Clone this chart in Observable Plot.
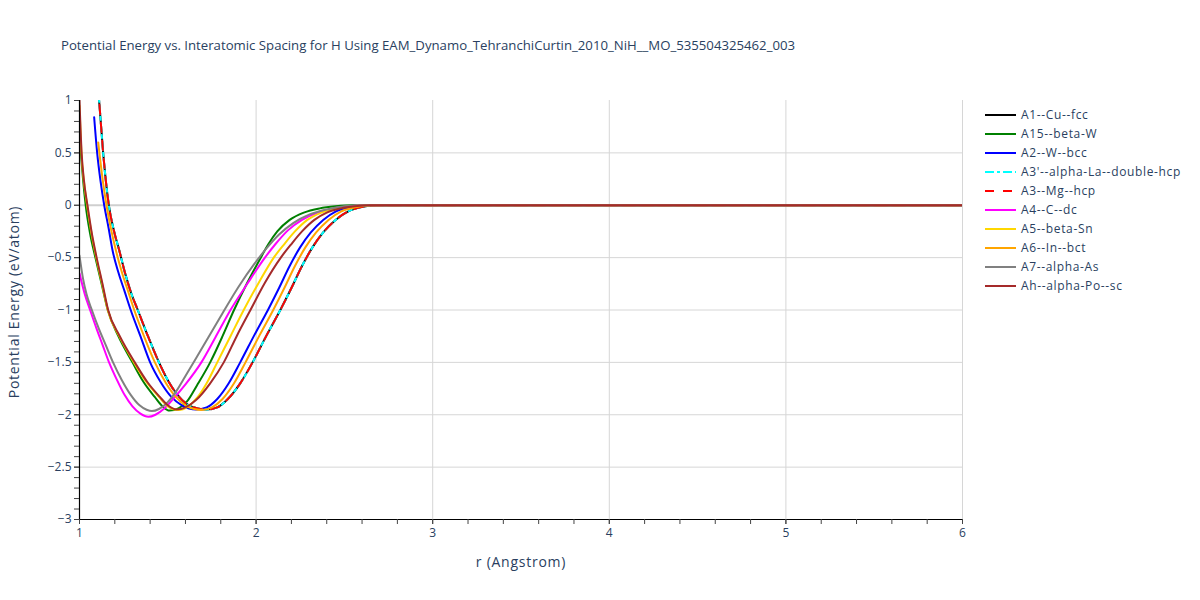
<!DOCTYPE html>
<html>
<head>
<meta charset="utf-8">
<script src="https://cdn.jsdelivr.net/npm/d3@7"></script>
<script src="https://cdn.jsdelivr.net/npm/@observablehq/plot@0.6"></script>
<style>
  html, body { margin: 0; padding: 0; background: #fff; }
  #wrap { position: relative; width: 1200px; height: 600px; font-family: "Open Sans", Verdana, Arial, sans-serif; color: #2a3f5f; }
  #wrap > svg { position: absolute; left: 0; top: 0; }
  .title { position: absolute; left: 61px; top: 36px; font-size: 13.2px; white-space: nowrap; color: #2a3f5f; }
  .xtitle { position: absolute; left: 0; width: 1042px; top: 552px; text-align: center; font-size: 14px; letter-spacing: 0.75px; }
  .ytitle { position: absolute; left: 13px; top: 302px; font-size: 14px; letter-spacing: 0.72px; white-space: nowrap; transform: translate(-50%, -50%) rotate(-90deg); }
  .legend { position: absolute; left: 985px; top: 105px; font-size: 12px; letter-spacing: 0.65px; }
  .legend .item { height: 19px; display: flex; align-items: center; white-space: nowrap; }
  .legend svg { margin-right: 5px; }
</style>
</head>
<body>
<div id="wrap">
  <div class="title">Potential Energy vs. Interatomic Spacing for H Using EAM_Dynamo_TehranchiCurtin_2010_NiH__MO_535504325462_003</div>
  <div class="xtitle">r (Angstrom)</div>
  <div class="ytitle">Potential Energy (eV/atom)</div>
  <div class="legend" id="legend"></div>
</div>
<script>
// ---- data (r in Angstrom, E in eV/atom) ----
const A1_Cu_fcc = [[1.095,1.30],[1.111,1.00],[1.134,0.50],[1.166,0.00],[1.196,-0.25],[1.225,-0.43],[1.26,-0.66],[1.295,-0.85],[1.33,-1.00],[1.39,-1.26],[1.45,-1.50],[1.50,-1.67],[1.55,-1.80],[1.61,-1.90],[1.67,-1.94],[1.72,-1.95],[1.78,-1.93],[1.84,-1.85],[1.91,-1.70],[1.98,-1.50],[2.06,-1.24],[2.14,-0.99],[2.20,-0.79],[2.26,-0.58],[2.32,-0.40],[2.38,-0.26],[2.45,-0.14],[2.52,-0.06],[2.59,-0.02],[2.68,0],[6,0]];
const A15_beta_W = [[1.0,0.70],[1.008,0.50],[1.02,0.25],[1.035,0.00],[1.06,-0.27],[1.09,-0.50],[1.125,-0.75],[1.16,-1.00],[1.22,-1.25],[1.30,-1.50],[1.36,-1.68],[1.426,-1.83],[1.47,-1.92],[1.51,-1.96],[1.56,-1.94],[1.61,-1.87],[1.665,-1.72],[1.74,-1.50],[1.81,-1.25],[1.875,-1.00],[1.95,-0.74],[2.02,-0.52],[2.07,-0.37],[2.12,-0.25],[2.19,-0.14],[2.27,-0.07],[2.36,-0.03],[2.45,-0.01],[2.55,0],[6,0]];
const A2_W_bcc = [[1.083,0.84],[1.10,0.50],[1.12,0.22],[1.14,0.00],[1.165,-0.22],[1.187,-0.43],[1.22,-0.64],[1.255,-0.82],[1.29,-1.00],[1.345,-1.25],[1.40,-1.50],[1.46,-1.69],[1.52,-1.83],[1.58,-1.91],[1.66,-1.95],[1.72,-1.93],[1.78,-1.85],[1.845,-1.70],[1.91,-1.50],[1.99,-1.24],[2.07,-0.99],[2.13,-0.79],[2.19,-0.58],[2.25,-0.40],[2.31,-0.26],[2.38,-0.14],[2.45,-0.06],[2.53,-0.02],[2.63,0],[6,0]];
const A3p_alpha_La = [[1.095,1.30],[1.111,1.00],[1.134,0.50],[1.166,0.00],[1.196,-0.25],[1.225,-0.43],[1.26,-0.66],[1.295,-0.85],[1.33,-1.00],[1.39,-1.26],[1.45,-1.50],[1.50,-1.67],[1.55,-1.80],[1.61,-1.90],[1.67,-1.94],[1.72,-1.95],[1.78,-1.93],[1.84,-1.85],[1.91,-1.70],[1.98,-1.50],[2.06,-1.24],[2.14,-0.99],[2.20,-0.79],[2.26,-0.58],[2.32,-0.40],[2.38,-0.26],[2.45,-0.14],[2.52,-0.06],[2.59,-0.02],[2.68,0],[6,0]];
const A3_Mg_hcp = [[1.095,1.30],[1.111,1.00],[1.134,0.50],[1.166,0.00],[1.196,-0.25],[1.225,-0.43],[1.26,-0.66],[1.295,-0.85],[1.33,-1.00],[1.39,-1.26],[1.45,-1.50],[1.50,-1.67],[1.55,-1.80],[1.61,-1.90],[1.67,-1.94],[1.72,-1.95],[1.78,-1.93],[1.84,-1.85],[1.91,-1.70],[1.98,-1.50],[2.06,-1.24],[2.14,-0.99],[2.20,-0.79],[2.26,-0.58],[2.32,-0.40],[2.38,-0.26],[2.45,-0.14],[2.52,-0.06],[2.59,-0.02],[2.68,0],[6,0]];
const A4_C_dc = [[1.0,-0.65],[1.03,-0.85],[1.06,-1.00],[1.095,-1.17],[1.13,-1.33],[1.165,-1.49],[1.21,-1.66],[1.255,-1.81],[1.30,-1.92],[1.345,-1.99],[1.39,-2.02],[1.43,-2.00],[1.48,-1.94],[1.53,-1.85],[1.60,-1.71],[1.69,-1.50],[1.77,-1.26],[1.855,-1.00],[1.95,-0.75],[2.05,-0.50],[2.11,-0.37],[2.18,-0.24],[2.26,-0.14],[2.35,-0.07],[2.44,-0.03],[2.53,-0.01],[2.62,0],[6,0]];
const A5_beta_Sn = [[1.0,0.95],[1.011,0.50],[1.024,0.24],[1.043,0.00],[1.068,-0.27],[1.095,-0.50],[1.128,-0.75],[1.16,-1.00],[1.225,-1.25],[1.308,-1.50],[1.38,-1.69],[1.45,-1.83],[1.50,-1.92],[1.56,-1.955],[1.615,-1.92],[1.67,-1.83],[1.72,-1.70],[1.78,-1.50],[1.855,-1.25],[1.93,-1.00],[2.015,-0.74],[2.10,-0.50],[2.16,-0.37],[2.22,-0.25],[2.29,-0.14],[2.37,-0.07],[2.45,-0.03],[2.54,-0.01],[2.63,0],[6,0]];
const A6_In_bct = [[1.106,0.60],[1.13,0.26],[1.153,0.00],[1.18,-0.24],[1.206,-0.43],[1.24,-0.64],[1.275,-0.82],[1.31,-1.00],[1.37,-1.27],[1.427,-1.50],[1.49,-1.70],[1.545,-1.83],[1.61,-1.92],[1.69,-1.955],[1.75,-1.93],[1.81,-1.85],[1.875,-1.70],[1.94,-1.50],[2.02,-1.24],[2.10,-0.99],[2.16,-0.79],[2.22,-0.58],[2.28,-0.40],[2.34,-0.26],[2.41,-0.14],[2.48,-0.06],[2.56,-0.02],[2.66,0],[6,0]];
const A7_alpha_As = [[1.0,-0.48],[1.02,-0.70],[1.04,-0.85],[1.07,-1.00],[1.11,-1.18],[1.15,-1.34],[1.19,-1.50],[1.24,-1.67],[1.29,-1.81],[1.34,-1.91],[1.38,-1.952],[1.41,-1.965],[1.45,-1.945],[1.50,-1.88],[1.55,-1.77],[1.60,-1.63],[1.65,-1.49],[1.73,-1.26],[1.81,-1.03],[1.90,-0.78],[1.99,-0.56],[2.06,-0.41],[2.13,-0.28],[2.21,-0.17],[2.30,-0.09],[2.40,-0.04],[2.50,-0.01],[2.62,0],[6,0]];
const Ah_alpha_Po = [[1.0,1.00],[1.012,0.50],[1.025,0.24],[1.045,0.00],[1.07,-0.27],[1.097,-0.50],[1.13,-0.75],[1.162,-1.00],[1.228,-1.25],[1.313,-1.50],[1.385,-1.69],[1.455,-1.83],[1.50,-1.91],[1.55,-1.95],[1.60,-1.93],[1.66,-1.86],[1.74,-1.70],[1.817,-1.50],[1.89,-1.25],[1.968,-1.00],[2.05,-0.74],[2.14,-0.50],[2.20,-0.37],[2.26,-0.25],[2.33,-0.14],[2.40,-0.07],[2.48,-0.03],[2.56,-0.01],[2.65,0],[6,0]];

const seriesNames = ["A1--Cu--fcc","A15--beta-W","A2--W--bcc","A3'--alpha-La--double-hcp","A3--Mg--hcp","A4--C--dc","A5--beta-Sn","A6--In--bct","A7--alpha-As","Ah--alpha-Po--sc"];
const seriesData = [A1_Cu_fcc, A15_beta_W, A2_W_bcc, A3p_alpha_La, A3_Mg_hcp, A4_C_dc, A5_beta_Sn, A6_In_bct, A7_alpha_As, Ah_alpha_Po];
const seriesColors = ["#000000","#008000","#0000ff","#00ffff","#ff0000","#ff00ff","#ffd700","#ffa500","#808080","#a52a2a"];
const seriesDash = [null,null,null,"9,3,3,3","9,9",null,null,null,null,null];

const xTicks = [1,2,3,4,5,6];
const yTicks = [1,0.5,0,-0.5,-1,-1.5,-2,-2.5,-3];
const xGrid = [2,3,4,5,6];
const yGrid = [0.5,-0.5,-1,-1.5,-2,-2.5];

const minus = v => v < 0 ? "\u2212" + Math.abs(v) : String(v);
const yMinor = d3.range(-30, 11).map(i => i / 10);
const xMinor = d3.range(5, 31).map(i => i / 5);

const lines = seriesData.map((data, i) => Plot.line(data, {
  x: d => d[0], y: d => d[1],
  stroke: seriesColors[i], strokeWidth: 2,
  strokeDasharray: seriesDash[i] || undefined,
  curve: "monotone-x", clip: true
}));

const chart = Plot.plot({
  width: 1200, height: 600,
  marginLeft: 79, marginRight: 238, marginTop: 100, marginBottom: 81,
  style: { fontFamily: "'Open Sans', Verdana, Arial, sans-serif", fontSize: "12px", color: "#2a3f5f", background: "white" },
  x: { domain: [1, 6] },
  y: { domain: [-3, 1] },
  marks: [
    Plot.gridX(xGrid, { stroke: "#d6d6d6", strokeOpacity: 1, strokeWidth: 1 }),
    Plot.gridY(yGrid, { stroke: "#d6d6d6", strokeOpacity: 1, strokeWidth: 1 }),
    Plot.ruleY([0], { stroke: "#cfcfcf", strokeWidth: 2 }),
    ...lines,
    Plot.ruleX([1], { stroke: "#000", strokeWidth: 1.2 }),
    Plot.ruleY([-3], { stroke: "#000", strokeWidth: 1.2 }),
    Plot.axisY(yMinor, { anchor: "left", tickSize: 5, tickFormat: () => "", stroke: "#444", label: null }),
    Plot.axisY(yTicks, { anchor: "left", tickSize: 5, tickPadding: 3, tickFormat: minus, stroke: "#444", fill: "#2a3f5f", fontSize: 12, label: null }),
    Plot.axisX(xMinor, { anchor: "bottom", tickSize: 5, tickFormat: () => "", stroke: "#444", label: null }),
    Plot.axisX(xTicks, { anchor: "bottom", tickSize: 5, tickPadding: 4, tickFormat: minus, stroke: "#444", fill: "#2a3f5f", fontSize: 12, label: null })
  ]
});
document.getElementById("wrap").prepend(chart);

// legend
const leg = document.getElementById("legend");
seriesNames.forEach((name, i) => {
  const item = document.createElement("div");
  item.className = "item";
  const dash = seriesDash[i] ? ` stroke-dasharray="${seriesDash[i]}"` : "";
  item.innerHTML = `<svg width="31" height="4"><line x1="0" y1="2" x2="31" y2="2" stroke="${seriesColors[i]}" stroke-width="2"${dash}/></svg><span>${name}</span>`;
  leg.appendChild(item);
});
</script>
</body>
</html>
